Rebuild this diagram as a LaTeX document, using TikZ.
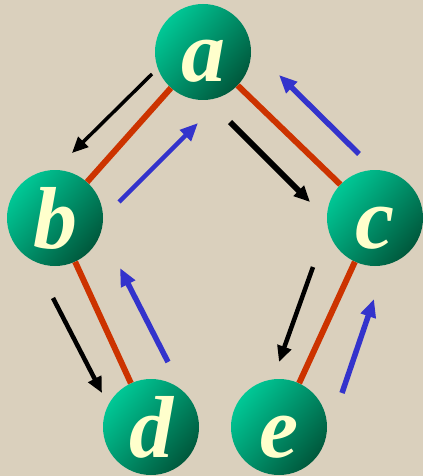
\documentclass[tikz,border=0pt]{standalone}
\usepackage{fontspec}
\setmainfont{Liberation Serif}
\usetikzlibrary{arrows.meta}

\definecolor{paper}{RGB}{218,208,189}
\definecolor{balllight}{RGB}{0,200,150}
\definecolor{balldark}{RGB}{0,88,60}
\definecolor{letter}{RGB}{255,255,204}
\definecolor{edgered}{RGB}{204,51,0}
\definecolor{backblue}{RGB}{51,51,204}

\begin{document}
\begin{tikzpicture}[
  x=1pt, y=-1pt,
  vertex/.style={circle, inner sep=0pt, minimum size=96pt, top color=balllight, bottom color=balldark, shading angle=50,
    text=letter, font=\fontsize{88}{88}\selectfont\bfseries\itshape, text height=60pt, text depth=0pt},
  edge/.style={edgered, line width=6pt},
  fwd/.style={black, line width=4.5pt, -{Triangle[length=16pt,width=14pt]}},
  back/.style={backblue, line width=5.5pt, -{Triangle[length=18pt,width=15pt]}},
]
\fill[paper] (0,0) rectangle (423,476);
\useasboundingbox (0,0) rectangle (423,476);

% ===== vertices =====
\node[vertex] (a) at (203,52) {a};
\node[vertex] (b) at (55,218) {b};
\node[vertex] (c) at (375,218) {c};
\node[vertex] (d) at (151,427) {d};
\node[vertex] (e) at (279,427) {e};

% ===== tree edges =====
\draw[edge] (a) -- (b);
\draw[edge] (a) -- (c);
\draw[edge] (b) -- (d);
\draw[edge] (c) -- (e);

% ===== arrow ends =====
\coordinate (ab1) at (152,74);  \coordinate (ab2) at (72,153);
\coordinate (ac1) at (230,122); \coordinate (ac2) at (310,202);
\coordinate (bd1) at (53,298);  \coordinate (bd2) at (102,393);
\coordinate (ce1) at (313,267); \coordinate (ce2) at (279,362);
\coordinate (ba1) at (119,202); \coordinate (ba2) at (198,123);
\coordinate (ca1) at (359,154); \coordinate (ca2) at (279,75);
\coordinate (db1) at (168,362); \coordinate (db2) at (120,268);
\coordinate (ec1) at (342,393); \coordinate (ec2) at (374,299);

% going down
\draw[fwd, line width=3.5pt] (ab1) -- (ab2);
\draw[fwd, line width=6pt] (ac1) -- (ac2);
\draw[fwd] (bd1) -- (bd2);
\draw[fwd] (ce1) -- (ce2);

% coming back
\draw[back, line width=4.5pt] (ba1) -- (ba2);
\draw[back] (ca1) -- (ca2);
\draw[back] (db1) -- (db2);
\draw[back] (ec1) -- (ec2);

\end{tikzpicture}
\end{document}
